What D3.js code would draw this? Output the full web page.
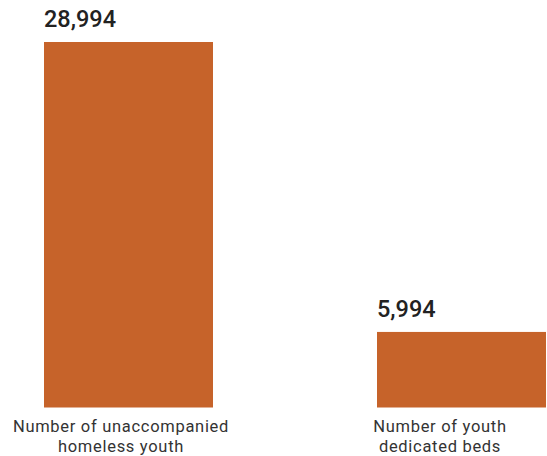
<!DOCTYPE html>
<html><head><meta charset="utf-8">
<script src="https://cdn.jsdelivr.net/npm/d3@7"></script>
<style>body{margin:0;background:#fff}</style>
</head><body>
<script>
const categories = ["Number of unaccompanied homeless youth", "Number of youth dedicated beds"];
const labelLines = [["Number of unaccompanied", "homeless youth"], ["Number of youth", "dedicated beds"]];
const values = [28994, 5994];

const W = 547, H = 456;
const svg = d3.select("body").append("svg").attr("width", W).attr("height", H);
const bw = 169;
const xPos = d3.scalePoint().domain(categories).range([44, 377]);
const xLab = d3.scalePoint().domain(categories).range([121, 440]);
const y = d3.scaleLinear().domain([0, 28994]).range([407.5, 42]);

svg.selectAll("rect.bar").data(values).join("rect")
  .attr("class", "bar")
  .attr("x", (d, i) => xPos(categories[i]))
  .attr("y", d => y(d))
  .attr("width", bw)
  .attr("height", d => y(0) - y(d))
  .attr("fill", "#C6632A");

svg.selectAll("text.val").data(values).join("text")
  .attr("class", "val")
  .attr("x", (d, i) => xPos(categories[i]))
  .attr("y", d => y(d) - 15)
  .attr("font-family", "Roboto, sans-serif")
  .attr("font-weight", 500)
  .attr("font-size", 23.5)
  .attr("fill", "#222")
  .text(d => d3.format(",")(d));

const lines = [];
categories.forEach((c, i) => labelLines[i].forEach((t, j) => lines.push({c, t, j})));
svg.selectAll("text.cat").data(lines).join("text")
  .attr("class", "cat")
  .attr("x", d => xLab(d.c))
  .attr("y", d => 432 + d.j * 19.5)
  .attr("text-anchor", "middle")
  .attr("font-family", "Roboto, sans-serif")
  .attr("font-size", 16.5)
  .attr("letter-spacing", 0.7)
  .attr("fill", "#333")
  .text(d => d.t);
</script>
</body></html>
